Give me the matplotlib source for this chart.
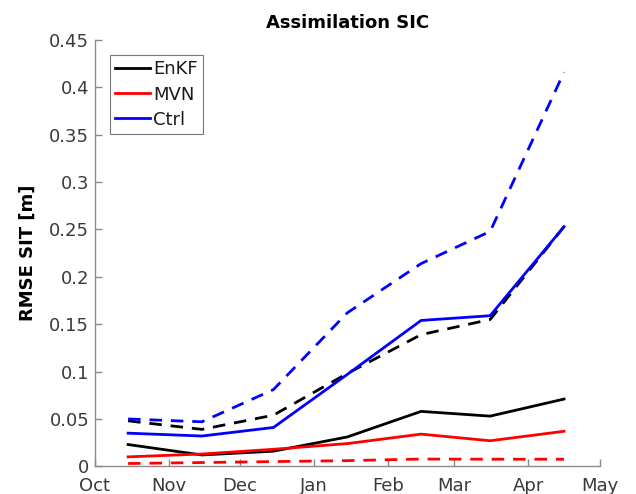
import matplotlib
matplotlib.use("Agg")
import matplotlib.pyplot as plt

# Days since 1 October
month_labels = ["Oct", "Nov", "Dec", "Jan", "Feb", "Mar", "Apr", "May"]
month_starts = [0, 31, 61, 92, 123, 151, 182, 212]
obs_days = [14, 45, 75, 106, 137, 166, 197]

enkf_solid = [0.023, 0.012, 0.016, 0.031, 0.058, 0.053, 0.071]
enkf_dash = [0.048, 0.039, 0.054, 0.098, 0.139, 0.155, 0.253]
mvn_solid = [0.010, 0.013, 0.018, 0.024, 0.034, 0.027, 0.037]
mvn_dash = [0.003, 0.004, 0.005, 0.006, 0.0077, 0.0075, 0.0075]
ctrl_solid = [0.035, 0.032, 0.041, 0.097, 0.154, 0.159, 0.253]
ctrl_dash = [0.050, 0.047, 0.081, 0.162, 0.214, 0.248, 0.416]

y_ticks = [0, 0.05, 0.1, 0.15, 0.2, 0.25, 0.3, 0.35, 0.4, 0.45]
y_tick_labels = ["0", "0.05", "0.1", "0.15", "0.2", "0.25", "0.3", "0.35", "0.4", "0.45"]

plt.rcParams['font.family'] = ['DejaVu Sans']
fig = plt.figure(figsize=(6.36, 4.94), dpi=100)
ax = fig.add_axes([0.149, 0.056, 0.794, 0.863])

lw = 2.0
dash = (0, (4.5, 3.2))
ax.plot(obs_days, enkf_dash, color='black', lw=lw, linestyle=dash)
ax.plot(obs_days, mvn_dash, color='red', lw=lw, linestyle=dash)
ax.plot(obs_days, ctrl_dash, color='blue', lw=lw, linestyle=dash)
ax.plot(obs_days, enkf_solid, color='black', lw=lw, label='EnKF')
ax.plot(obs_days, mvn_solid, color='red', lw=lw, label='MVN')
ax.plot(obs_days, ctrl_solid, color='blue', lw=lw, label='Ctrl')

ax.set_xlim(month_starts[0], month_starts[-1])
ax.set_ylim(0, 0.45)
ax.set_xticks(month_starts)
ax.set_xticklabels(month_labels)
ax.set_yticks(y_ticks)
ax.set_yticklabels(y_tick_labels)

gray = '#3a3a3a'
for s in ['top', 'right']:
    ax.spines[s].set_visible(False)
for s in ['left', 'bottom']:
    ax.spines[s].set_color('#8a8a8a')
    ax.spines[s].set_linewidth(1.0)
ax.tick_params(direction='in', length=5, width=1.0, color='#8a8a8a',
               labelsize=13, labelcolor=gray)
ax.tick_params(axis='x', pad=8)
ax.tick_params(axis='y', pad=4)

ax.set_ylabel('RMSE SIT [m]', fontsize=13, fontweight='bold', labelpad=9)
ax.set_title('Assimilation SIC', fontsize=13, fontweight='bold', pad=9)

leg = ax.legend(loc='upper left', bbox_to_anchor=(0.03, 0.965), fontsize=13,
                frameon=True, fancybox=False, handlelength=1.9, handletextpad=0.2,
                borderpad=0.3, labelspacing=0.4, borderaxespad=0.0)
leg.get_frame().set_edgecolor('#555555')
leg.get_frame().set_linewidth(0.8)
for t in leg.get_texts():
    t.set_color('#1a1a1a')

fig.savefig('out.png', dpi=100)
